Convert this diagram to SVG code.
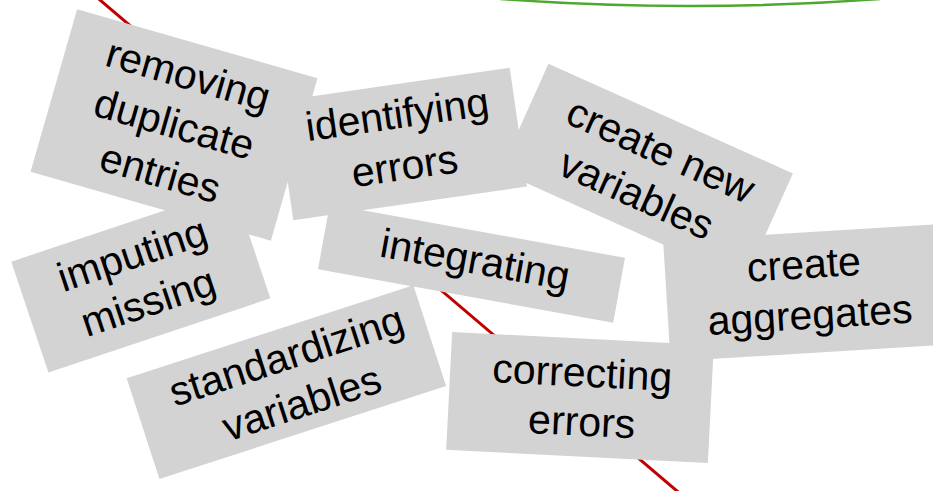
<svg xmlns="http://www.w3.org/2000/svg" width="933" height="491" viewBox="0 0 933 491">
  <style>
    .card { fill: #d3d3d3; }
    .label { font-family: "Liberation Sans", Arial, sans-serif; font-size: 41px; fill: #000; text-anchor: middle; }
    .divider { stroke: #c00000; stroke-width: 3; fill: none; }
    .arc { stroke: #4ea72e; stroke-width: 2.5; fill: none; }
  </style>
  <rect width="933" height="491" fill="#ffffff"/>

  <g id="connectors">
    <path class="arc" d="M500,-1 Q690,13 880,-1"/>
    <line class="divider" x1="95.3" y1="-4" x2="681.7" y2="495"/>
  </g>

  <g id="imputing-missing" transform="translate(140.8,280) rotate(-18.5)">
    <rect class="card" x="-117" y="-58.5" width="234" height="117"/>
    <text class="label" x="0" y="-13">imputing</text>
    <text class="label" x="0" y="37">missing</text>
  </g>

  <g id="removing-duplicate-entries" transform="translate(174,125) rotate(16)">
    <rect class="card" x="-125" y="-84.5" width="250" height="169"/>
    <text class="label" x="0" y="-38">removing</text>
    <text class="label" x="0" y="13">duplicate</text>
    <text class="label" x="0" y="64">entries</text>
  </g>

  <g id="identifying-errors" transform="translate(401.5,144) rotate(-8.2)">
    <rect class="card" x="-118" y="-60" width="236" height="120"/>
    <text class="label" x="0" y="-16">identifying</text>
    <text class="label" x="0" y="36">errors</text>
  </g>

  <g id="create-new-variables" transform="translate(646.5,172.4) rotate(24.2)">
    <rect class="card" x="-134" y="-59" width="268" height="118"/>
    <text class="label" x="4" y="-12">create new</text>
    <text class="label" x="0" y="38">variables</text>
  </g>

  <g id="integrating" transform="translate(471.5,263.5) rotate(10.3)">
    <rect class="card" x="-150" y="-33" width="300" height="66"/>
    <text class="label" x="3" y="9.5">integrating</text>
  </g>

  <g id="standardizing-variables" transform="translate(286.4,382.1) rotate(-18)">
    <rect class="card" x="-150.7" y="-53" width="301.4" height="106"/>
    <text class="label" x="8" y="-11">standardizing</text>
    <text class="label" x="8" y="38.6">variables</text>
  </g>

  <g id="correcting-errors" transform="translate(580,397.5) rotate(2.9)">
    <rect class="card" x="-131" y="-59" width="262" height="118"/>
    <text class="label" x="1" y="-11">correcting</text>
    <text class="label" x="3" y="38">errors</text>
  </g>

  <g id="create-aggregates" transform="translate(805.6,292.8) rotate(-3.5)">
    <rect class="card" x="-139" y="-60.3" width="278" height="120.6"/>
    <text class="label" x="0" y="-14.6">create</text>
    <text class="label" x="3" y="36.3">aggregates</text>
  </g>
</svg>
